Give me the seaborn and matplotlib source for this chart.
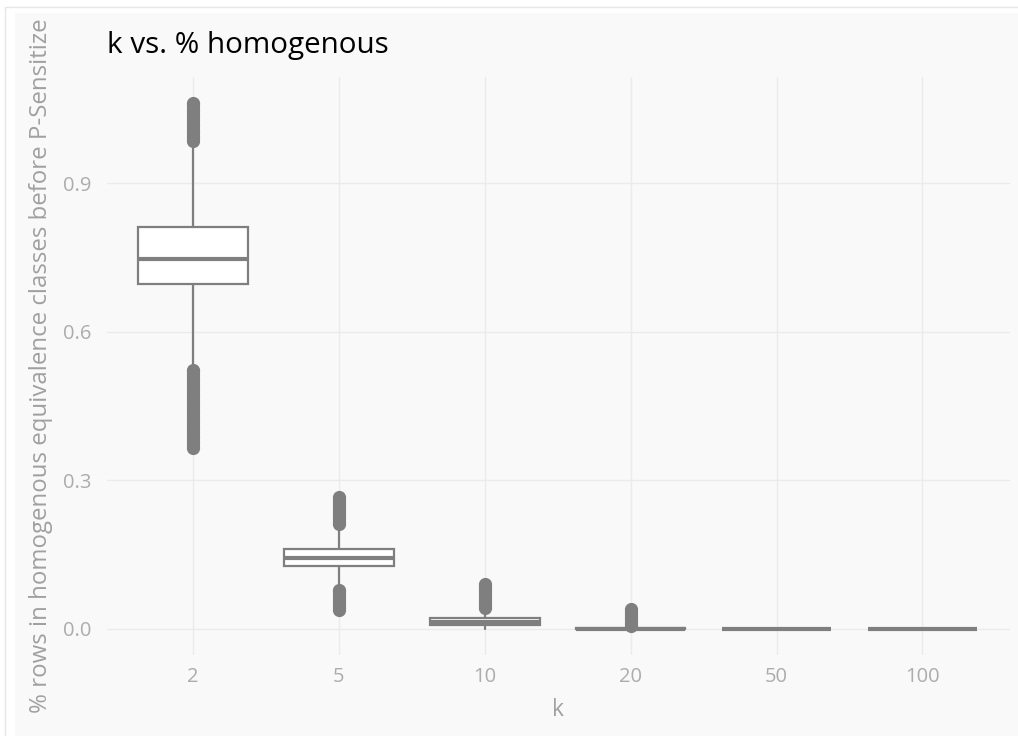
import matplotlib
matplotlib.use("Agg")
import matplotlib.pyplot as plt
import seaborn as sns
from matplotlib.patches import Rectangle


sns.set_theme(style="whitegrid")
plt.rcParams['font.family'] = ['Open Sans', 'DejaVu Sans']

# box statistics, one entry per k
k_labels = ["2", "5", "10", "20", "50", "100"]
whisker_low = [0.530, 0.085, 0.000, 0.000, 0.000, 0.000]
q1 = [0.696, 0.127, 0.008, 0.000, 0.000, 0.000]
median = [0.747, 0.144, 0.015, 0.000, 0.000, 0.000]
q3 = [0.811, 0.161, 0.022, 0.001, 0.000, 0.000]
whisker_high = [0.980, 0.210, 0.040, 0.002, 0.000, 0.000]

# outliers (the dense streaks above/below the whiskers)
outliers_k2 = [0.365, 0.370, 0.375, 0.380, 0.385, 0.390, 0.395, 0.400, 0.405,
               0.410, 0.415, 0.420, 0.425, 0.430, 0.435, 0.440, 0.445, 0.450,
               0.455, 0.460, 0.465, 0.470, 0.475, 0.480, 0.485, 0.490, 0.495,
               0.500, 0.505, 0.510, 0.515, 0.520, 0.523,
               0.985, 0.990, 0.995, 1.000, 1.005, 1.010, 1.015, 1.020, 1.025,
               1.030, 1.035, 1.040, 1.045, 1.050, 1.055, 1.060, 1.062]
outliers_k5 = [0.038, 0.042, 0.047, 0.052, 0.057, 0.062, 0.067, 0.072, 0.076, 0.079,
               0.212, 0.216, 0.221, 0.226, 0.231, 0.236, 0.241, 0.246, 0.251,
               0.256, 0.261, 0.266]
outliers_k10 = [0.042, 0.046, 0.051, 0.056, 0.061, 0.066, 0.071, 0.076, 0.081,
                0.086, 0.091]
outliers_k20 = [0.006, 0.010, 0.015, 0.020, 0.025, 0.030, 0.035, 0.040]
outliers = [outliers_k2, outliers_k5, outliers_k10, outliers_k20, [], []]

stats = []
for i, lab in enumerate(k_labels):
    stats.append({
        'label': lab, 'whislo': whisker_low[i], 'q1': q1[i], 'med': median[i],
        'q3': q3[i], 'whishi': whisker_high[i], 'fliers': outliers[i],
    })

grey = '#7f7f7f'
panel = '#f9f9f9'

fig = plt.figure(figsize=(10.18, 7.36), dpi=100, facecolor='white')
fig.patches.append(Rectangle((15 / 1018, 0), 1, 1 - 13 / 736, transform=fig.transFigure,
                             facecolor=panel, edgecolor='none', zorder=-2))
fig.patches.append(Rectangle((5 / 1018, -0.01), 1, 1 - 7 / 736 + 0.01, transform=fig.transFigure,
                             facecolor='none', edgecolor='#e6e6e6', linewidth=1, zorder=-1))

ax = fig.add_axes([107 / 1018, 1 - 655 / 736, 903 / 1018, 578 / 736])
ax.set_facecolor(panel)

ax.bxp(stats, positions=range(len(k_labels)), widths=0.75, patch_artist=True,
       showcaps=False,
       boxprops=dict(facecolor='white', edgecolor=grey, linewidth=1.6),
       medianprops=dict(color=grey, linewidth=3),
       whiskerprops=dict(color=grey, linewidth=1.6),
       flierprops=dict(marker='o', markerfacecolor=grey, markeredgecolor='none',
                       markersize=9.5))

ax.set_xlim(-0.59, 5.6)
ax.set_ylim(-0.0525, 1.114)
ax.set_yticks([0.0, 0.3, 0.6, 0.9])
ax.set_yticklabels(['0.0', '0.3', '0.6', '0.9'])
ax.set_xticks(range(len(k_labels)))
ax.set_xticklabels(k_labels)

ax.grid(True, color='#ebebeb', linewidth=1)
for s in ax.spines.values():
    s.set_visible(False)
ax.tick_params(axis='both', length=0, labelsize=14.5, colors='#acacac')
ax.tick_params(axis='y', pad=11)
ax.tick_params(axis='x', pad=9)

ax.set_xlabel('k', fontsize=16.5, color='#a0a0a0')
ax.set_ylabel('% rows in homogenous equivalence classes before P-Sensitize',
              fontsize=17.3, color='#a0a0a0')
ax.xaxis.set_label_coords(0.5, -0.075)
ax.yaxis.set_label_coords(-0.06, 0.5)

fig.text(107 / 1018, 1 - 53 / 736, 'k vs. % homogenous', fontsize=21.3,
         color='#000000', ha='left', va='baseline')

fig.savefig('out.png', dpi=100, facecolor=fig.get_facecolor())
